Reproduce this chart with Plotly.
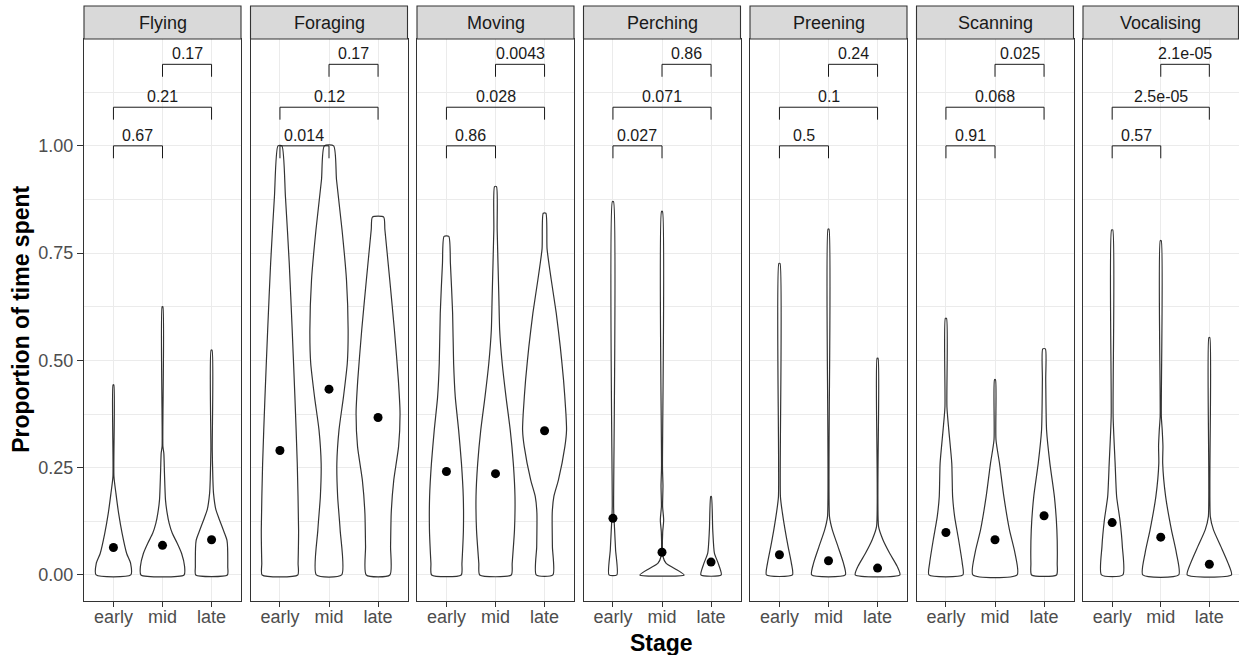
import plotly.graph_objects as go

behaviours = ["Flying", "Foraging", "Moving", "Perching", "Preening", "Scanning", "Vocalising"]
stages = ["early", "mid", "late"]
stage_pos = [1, 2, 3]

# Violin outlines: (proportion levels, half-width of the density at each level)
flying = {
    "early": ([0, 0.027, 0.05, 0.097, 0.144, 0.19, 0.23, 0.443],
              [0.353, 0.35, 0.27, 0.177, 0.105, 0.051, 0.01, 0.008]),
    "mid": ([0, 0.02, 0.05, 0.074, 0.097, 0.12, 0.144, 0.175, 0.237, 0.284, 0.30, 0.625],
            [0.44, 0.45, 0.39, 0.30, 0.20, 0.136, 0.095, 0.061, 0.04, 0.027, 0.008, 0.008]),
    "late": ([0, 0.019, 0.08, 0.10, 0.13, 0.152, 0.19, 0.222, 0.292, 0.524],
             [0.323, 0.33, 0.315, 0.255, 0.156, 0.088, 0.04, 0.027, 0.014, 0.01]),
}
foraging = {
    "early": ([0, 0.027, 0.105, 0.26, 0.415, 0.571, 0.726, 0.882, 1.0],
              [0.363, 0.37, 0.38, 0.353, 0.305, 0.25, 0.19, 0.112, 0.04]),
    "mid": ([0, 0.105, 0.183, 0.26, 0.338, 0.415, 0.494, 0.571, 0.688, 0.805, 0.921, 1.0],
            [0.258, 0.227, 0.176, 0.16, 0.204, 0.295, 0.373, 0.39, 0.356, 0.265, 0.153, 0.095]),
    "late": ([0, 0.066, 0.144, 0.221, 0.299, 0.377, 0.454, 0.571, 0.688, 0.805, 0.834],
             [0.241, 0.255, 0.268, 0.32, 0.418, 0.448, 0.414, 0.333, 0.238, 0.139, 0.115]),
}
moving = {
    "early": ([0, 0.027, 0.105, 0.183, 0.26, 0.338, 0.415, 0.494, 0.61, 0.726, 0.789],
              [0.302, 0.316, 0.346, 0.343, 0.306, 0.248, 0.18, 0.146, 0.126, 0.081, 0.048]),
    "mid": ([0, 0.027, 0.105, 0.183, 0.26, 0.338, 0.415, 0.494, 0.571, 0.649, 0.805, 0.905],
            [0.322, 0.34, 0.387, 0.397, 0.363, 0.30, 0.214, 0.136, 0.085, 0.068, 0.034, 0.02]),
    "late": ([0, 0.066, 0.144, 0.183, 0.221, 0.299, 0.338, 0.377, 0.454, 0.532, 0.61, 0.688, 0.76, 0.843],
             [0.17, 0.16, 0.156, 0.19, 0.282, 0.414, 0.448, 0.435, 0.387, 0.32, 0.238, 0.136, 0.051, 0.027]),
}
perching = {
    "early": ([0, 0.058, 0.105, 0.136, 0.16, 0.87],
              [0.081, 0.054, 0.034, 0.02, 0.014, 0.012]),
    "mid": ([0, 0.015, 0.027, 0.043, 0.10, 0.12, 0.128, 0.136, 0.16, 0.208, 0.25, 0.847],
            [0.45, 0.255, 0.085, 0.02, 0.014, 0.03, 0.034, 0.03, 0.012, 0.02, 0.01, 0.01]),
    "late": ([0, 0.027, 0.051, 0.105, 0.183],
             [0.207, 0.146, 0.068, 0.034, 0.007]),
}
preening = {
    "early": ([0, 0.027, 0.066, 0.105, 0.144, 0.183, 0.726],
              [0.265, 0.244, 0.177, 0.115, 0.061, 0.02, 0.012]),
    "mid": ([0, 0.027, 0.066, 0.105, 0.136, 0.806],
            [0.343, 0.306, 0.194, 0.078, 0.02, 0.01]),
    "late": ([0, 0.02, 0.051, 0.082, 0.113, 0.505],
             [0.455, 0.40, 0.244, 0.109, 0.02, 0.01]),
}
scanning = {
    "early": ([0, 0.027, 0.082, 0.136, 0.183, 0.26, 0.338, 0.392, 0.598],
              [0.346, 0.333, 0.258, 0.177, 0.136, 0.119, 0.058, 0.02, 0.012]),
    "mid": ([0, 0.051, 0.105, 0.183, 0.26, 0.315, 0.455],
            [0.451, 0.407, 0.295, 0.18, 0.092, 0.02, 0.01]),
    "late": ([0, 0.027, 0.105, 0.183, 0.26, 0.338, 0.455, 0.527],
             [0.255, 0.268, 0.261, 0.21, 0.119, 0.051, 0.034, 0.027]),
}
vocalising = {
    "early": ([0, 0.066, 0.128, 0.183, 0.26, 0.369, 0.804],
              [0.22, 0.21, 0.16, 0.092, 0.061, 0.02, 0.012]),
    "mid": ([0, 0.051, 0.105, 0.183, 0.26, 0.30, 0.338, 0.37, 0.779],
            [0.37, 0.322, 0.22, 0.10, 0.04, 0.045, 0.03, 0.012, 0.01]),
    "late": ([0, 0.027, 0.066, 0.105, 0.136, 0.553],
             [0.455, 0.387, 0.238, 0.085, 0.02, 0.01]),
}
violins = [flying, foraging, moving, perching, preening, scanning, vocalising]

# Mean proportion per stage
stage_means = [
    [0.064, 0.069, 0.082],
    [0.290, 0.433, 0.367],
    [0.241, 0.236, 0.336],
    [0.132, 0.053, 0.030],
    [0.047, 0.033, 0.016],
    [0.099, 0.082, 0.138],
    [0.122, 0.088, 0.025],
]

# Pairwise comparisons: early-mid, early-late, mid-late
comparisons = [(1, 2), (1, 3), (2, 3)]
bracket_levels = [1.0, 1.09, 1.19]
p_values = [
    ["0.67", "0.21", "0.17"],
    ["0.014", "0.12", "0.17"],
    ["0.86", "0.028", "0.0043"],
    ["0.027", "0.071", "0.86"],
    ["0.5", "0.1", "0.24"],
    ["0.91", "0.068", "0.025"],
    ["0.57", "2.5e-05", "2.1e-05"],
]

W, H = 1239, 655
FONT = "Liberation Sans, Arial, sans-serif"
INK = "#333333"
GRID = "#EBEBEB"

panel_left, panel_step, panel_w = 84, 166.5, 157
panel_top, panel_bottom = 39, 600.7
strip_top = 6
y_range = [-0.060, 1.249]
tip = 0.029

fig = go.Figure()
layout = dict(
    width=W, height=H,
    margin=dict(l=0, r=0, t=0, b=0),
    paper_bgcolor="white", plot_bgcolor="white",
    showlegend=False,
    font=dict(family=FONT),
)
shapes, annotations = [], []

ydom = [(H - panel_bottom) / H, (H - panel_top) / H]

for i, name in enumerate(behaviours):
    sfx = "" if i == 0 else str(i + 1)
    xref, yref = "x" + sfx, "y" + sfx
    x0 = panel_left + i * panel_step
    x1 = min(x0 + panel_w, W - 0.5)
    layout["xaxis" + sfx] = dict(
        domain=[x0 / W, x1 / W], anchor=yref,
        range=[0.4, 3.6], tickmode="array", tickvals=stage_pos, ticktext=stages,
        showgrid=True, gridcolor=GRID, gridwidth=1.4,
        showline=True, linecolor=INK, linewidth=1.1, mirror=True,
        ticks="outside", ticklen=5, tickwidth=1.1, tickcolor=INK,
        ticklabelstandoff=-5,
        tickfont=dict(size=18, color="#4D4D4D", family=FONT),
        zeroline=False, fixedrange=True,
    )
    layout["yaxis" + sfx] = dict(
        domain=ydom, anchor=xref, range=y_range,
        tickmode="array", tickvals=[0, 0.25, 0.5, 0.75, 1.0],
        ticktext=["0.00", "0.25", "0.50", "0.75", "1.00"],
        showticklabels=(i == 0), ticks="outside" if i == 0 else "",
        ticklen=6, tickwidth=1.1, tickcolor=INK,
        tickfont=dict(size=18, color="#4D4D4D", family=FONT),
        showgrid=True, gridcolor=GRID, gridwidth=1.4,
        minor=dict(tickmode="array", tickvals=[0.125, 0.375, 0.625, 0.875, 1.125],
                   showgrid=True, gridcolor=GRID, gridwidth=0.9),
        showline=True, linecolor=INK, linewidth=1.1, mirror=True,
        zeroline=False, fixedrange=True,
    )

    # strip header
    shapes.append(dict(type="rect", xref="paper", yref="paper",
                       x0=x0 / W, x1=x1 / W, y0=(H - panel_top) / H, y1=(H - strip_top) / H,
                       fillcolor="#D9D9D9", line=dict(color=INK, width=1.1), layer="above"))
    annotations.append(dict(text=name, xref="paper", yref="paper",
                            x=(x0 + x1) / 2 / W, y=(H - (panel_top + strip_top) / 2) / H,
                            showarrow=False, xanchor="center", yanchor="middle",
                            font=dict(size=18, color="#1A1A1A", family=FONT)))

    # violins
    for pos, stage in zip(stage_pos, stages):
        levels, half = violins[i][stage]
        xs = [pos + w for w in half] + [pos - w for w in half[::-1]] + [pos + half[0]]
        ys = list(levels) + list(levels[::-1]) + [levels[0]]
        fig.add_trace(go.Scatter(
            x=xs, y=ys, xaxis=xref, yaxis=yref, mode="lines",
            line=dict(color=INK, width=1.2, shape="spline", smoothing=0.6),
            fill="toself", fillcolor="white", hoverinfo="skip",
        ))

    # stage means
    fig.add_trace(go.Scatter(
        x=stage_pos, y=stage_means[i], xaxis=xref, yaxis=yref, mode="markers",
        marker=dict(color="black", size=9), hoverinfo="skip",
    ))

    # significance brackets
    for (a, b), lvl, p in zip(comparisons, bracket_levels, p_values[i]):
        fig.add_trace(go.Scatter(
            x=[a, a, b, b], y=[lvl - tip, lvl, lvl, lvl - tip],
            xaxis=xref, yaxis=yref, mode="lines",
            line=dict(color="#1A1A1A", width=1.0), hoverinfo="skip",
        ))
        annotations.append(dict(text=p, x=(a + b) / 2, y=lvl, xref=xref, yref=yref,
                                showarrow=False, xanchor="center", yanchor="bottom",
                                font=dict(size=16, color="#1A1A1A", family=FONT)))

# axis titles
annotations.append(dict(text="<b>Stage</b>", xref="paper", yref="paper",
                        x=(panel_left + W) / 2 / W, y=(H - 643) / H,
                        showarrow=False, xanchor="center", yanchor="middle",
                        font=dict(size=23, color="black", family=FONT)))
annotations.append(dict(text="<b>Proportion of time spent</b>", xref="paper", yref="paper",
                        x=21 / W, y=(H - (panel_top + panel_bottom) / 2) / H,
                        showarrow=False, xanchor="center", yanchor="middle", textangle=-90,
                        font=dict(size=23, color="black", family=FONT)))

layout["shapes"] = shapes
layout["annotations"] = annotations
fig.update_layout(**layout)
fig.write_html("out.html")
